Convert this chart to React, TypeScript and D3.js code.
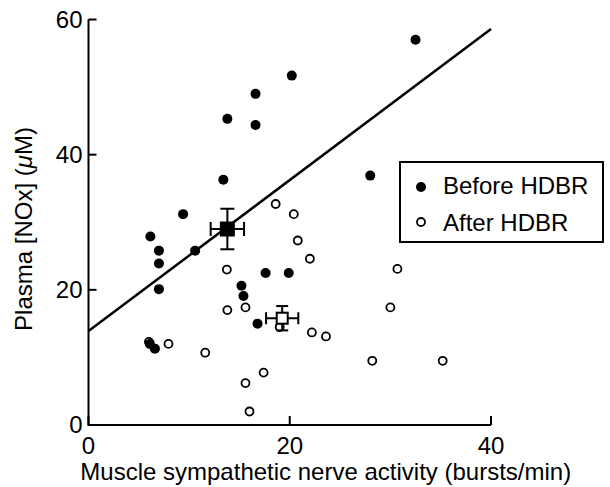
import React from "react";
import * as d3 from "d3";

// values
const beforeX = [32.5, 20.2, 16.6, 13.8, 16.6, 13.4, 28.0, 9.4, 6.15, 7.0, 10.6, 7.0, 17.6, 19.9, 15.2, 7.0, 15.4, 16.8, 6.1, 6.6];
const beforeY = [57.0, 51.7, 49.0, 45.3, 44.4, 36.3, 36.9, 31.2, 27.9, 25.8, 25.8, 23.9, 22.5, 22.5, 20.6, 20.1, 19.1, 15.0, 12.0, 11.3];
const afterX = [18.6, 20.4, 20.8, 22.0, 30.7, 13.75, 13.8, 15.6, 7.95, 11.6, 17.4, 15.6, 16.0, 30.0, 22.2, 23.6, 28.2, 35.2, 19.0, 6.0];
const afterY = [32.7, 31.2, 27.3, 24.6, 23.1, 23.0, 17.0, 17.4, 12.0, 10.7, 7.75, 6.2, 2.0, 17.4, 13.7, 13.1, 9.5, 9.5, 14.5, 12.3];
// mean ± SE: [x, y, errX, errY]
const beforeMean = [13.8, 29.0, 1.66, 3.0];
const afterMean = [19.25, 15.8, 1.6, 1.8];
// regression line: y = a + b x
const lineA = 13.9;
const lineB = 1.117;
const xTicks = [0, 20, 40];
const yTicks = [0, 20, 40, 60];
const legendLabels = ["Before HDBR", "After HDBR"];

const FONT = "'Liberation Sans', Arial, Helvetica, sans-serif";

export default function App() {
  const width = 610;
  const height = 487;
  const x = d3.scaleLinear().domain([0, 40]).range([88.5, 491]);
  const y = d3.scaleLinear().domain([0, 60]).range([425, 19.5]);

  const regLine = d3.line<number>()
    .x(d => x(d))
    .y(d => y(lineA + lineB * d));

  const meanMarker = (m: number[], filled: boolean, size: number, cap: number) => {
    const cx = x(m[0]);
    const cy = y(m[1]);
    const x0 = x(m[0] - m[2]);
    const x1 = x(m[0] + m[2]);
    const y0 = y(m[1] - m[3]);
    const y1 = y(m[1] + m[3]);
    return (
      <g stroke="#000" strokeWidth={2} fill="none">
        <line x1={x0} x2={x1} y1={cy} y2={cy} />
        <line x1={cx} x2={cx} y1={y0} y2={y1} />
        <line x1={x0} x2={x0} y1={cy - cap / 2} y2={cy + cap / 2} />
        <line x1={x1} x2={x1} y1={cy - cap / 2} y2={cy + cap / 2} />
        <line x1={cx - cap / 2} x2={cx + cap / 2} y1={y0} y2={y0} />
        <line x1={cx - cap / 2} x2={cx + cap / 2} y1={y1} y2={y1} />
        <rect x={cx - size / 2} y={cy - size / 2} width={size} height={size}
          fill={filled ? "#000" : "#fff"} />
      </g>
    );
  };

  return (
    <svg width={width} height={height} style={{ position: "absolute", left: 0, top: 0, background: "#fff" }}
      fontFamily={FONT}>
      {/* axes */}
      <g stroke="#000" strokeWidth={2} fill="none">
        <path d={`M${x(0)},${y(60)}V${y(0)}H${x(40)}`} />
        {yTicks.map(t => <line key={"yt" + t} x1={x(0)} x2={x(0) + 8} y1={y(t)} y2={y(t)} />)}
        {xTicks.map(t => <line key={"xt" + t} x1={x(t)} x2={x(t)} y1={y(0)} y2={y(0) - 9} />)}
      </g>
      <g fontSize={24} fill="#000">
        {yTicks.map(t => (
          <text key={"yl" + t} x={x(0) - 6} y={y(t)} dy="0.35em" textAnchor="end">{t}</text>
        ))}
        {xTicks.map(t => (
          <text key={"xl" + t} x={x(t)} y={454} textAnchor="middle">{t}</text>
        ))}
        <text x={(x(0) + x(40)) / 2 + 36} y={480} textAnchor="middle">
          Muscle sympathetic nerve activity (bursts/min)
        </text>
        <text transform={`translate(32,${229}) rotate(-90)`} textAnchor="middle">
          Plasma [NOx] (<tspan fontStyle="italic">μ</tspan>M)
        </text>
      </g>

      {/* regression line */}
      <path d={regLine([0, 40]) || ""} stroke="#000" strokeWidth={2.5} fill="none" />

      {/* points */}
      {afterX.map((v, i) => (
        <circle key={"a" + i} cx={x(v)} cy={y(afterY[i])} r={4} fill="#fff" stroke="#000" strokeWidth={1.8} />
      ))}
      {beforeX.map((v, i) => (
        <circle key={"b" + i} cx={x(v)} cy={y(beforeY[i])} r={5} fill="#000" />
      ))}

      {meanMarker(beforeMean, true, 13, 14)}
      {meanMarker(afterMean, false, 11, 12)}

      {/* legend */}
      <rect x={400} y={162} width={203} height={80} fill="#fff" stroke="#000" strokeWidth={2} />
      <circle cx={421} cy={187} r={5} fill="#000" />
      <circle cx={421} cy={222} r={4} fill="#fff" stroke="#000" strokeWidth={1.8} />
      <g fontSize={24} fill="#000">
        <text x={443} y={194}>{legendLabels[0]}</text>
        <text x={443} y={231}>{legendLabels[1]}</text>
      </g>
    </svg>
  );
}
